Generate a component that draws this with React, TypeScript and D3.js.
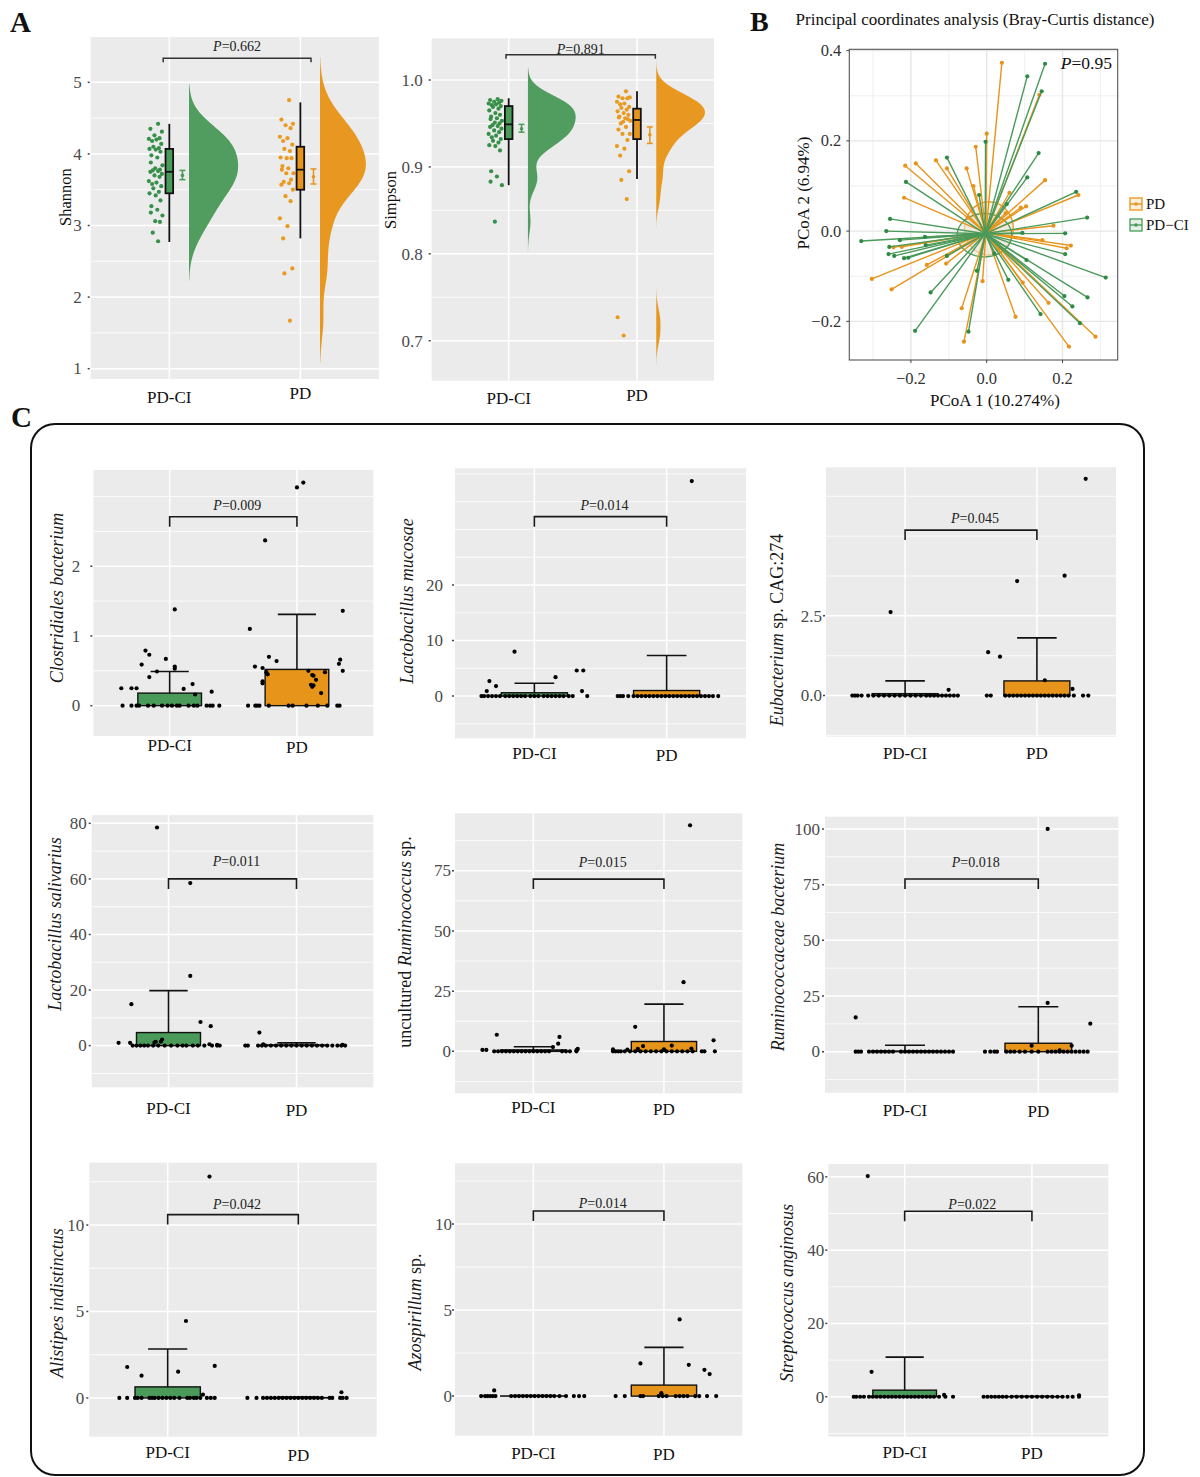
import React from 'react';
import * as d3 from 'd3';

const FONT = "'Liberation Serif','Times New Roman',serif";
const GROUPS = ['PD-CI', 'PD'];
const GREEN = '#4a9a5a';
const ORANGE = '#e7951a';
const GREEN_PT = '#379049';
const ORANGE_PT = '#ea9a1f';
const FILLS = [GREEN, ORANGE];
const PT_COLS = [GREEN_PT, ORANGE_PT];
const PANEL_BG = '#ebebeb';

type Pt = [number, number];

// ---------------- Panel A data ----------------
const shannonPDCI = [4.42, 4.35, 4.31, 4.26, 4.22, 4.21, 4.2, 4.18, 4.14, 4.1, 4.08, 4.07, 4.06, 4.03, 3.98, 3.95, 3.88, 3.84, 3.8, 3.78, 3.77, 3.76, 3.75, 3.72, 3.7, 3.68, 3.62, 3.6, 3.58, 3.55, 3.52, 3.47, 3.45, 3.42, 3.35, 3.27, 3.22, 3.18, 3.14, 3.06, 3.05, 2.9, 2.78];
const shannonPD = [4.75, 4.48, 4.42, 4.4, 4.36, 4.24, 4.22, 4.18, 4.13, 4.07, 4.04, 3.95, 3.94, 3.94, 3.83, 3.8, 3.78, 3.73, 3.73, 3.64, 3.61, 3.59, 3.57, 3.5, 3.41, 3.34, 3.1, 2.99, 2.82, 2.4, 2.33, 1.67];
const simpsonPDCI = [0.978, 0.977, 0.976, 0.975, 0.974, 0.973, 0.972, 0.971, 0.97, 0.969, 0.967, 0.965, 0.962, 0.96, 0.958, 0.956, 0.955, 0.953, 0.951, 0.95, 0.948, 0.947, 0.946, 0.944, 0.942, 0.94, 0.938, 0.936, 0.934, 0.932, 0.93, 0.928, 0.925, 0.924, 0.919, 0.895, 0.889, 0.883, 0.879, 0.837];
const simpsonPD = [0.987, 0.981, 0.98, 0.979, 0.979, 0.975, 0.973, 0.972, 0.969, 0.968, 0.966, 0.964, 0.962, 0.96, 0.958, 0.956, 0.957, 0.953, 0.952, 0.955, 0.95, 0.946, 0.943, 0.938, 0.938, 0.931, 0.924, 0.921, 0.913, 0.895, 0.885, 0.863, 0.727, 0.706];
// [lower whisker, q1, median, q3, upper whisker]
const shannonBox = [[2.77, 3.45, 3.75, 4.07, 4.42], [2.82, 3.5, 3.78, 4.1, 4.72]];
const simpsonBox = [[0.879, 0.932, 0.949, 0.97, 0.979], [0.886, 0.932, 0.954, 0.967, 0.987]];
// [mean, lower, upper]
const shannonMeanSE = [[3.7, 3.64, 3.77], [3.68, 3.58, 3.79]];
const simpsonMeanSE = [[0.944, 0.94, 0.949], [0.937, 0.927, 0.946]];
const jitterPattern = [0.35, -0.72, 0.88, -0.15, 0.55, -0.93, 0.12, -0.48, 0.79, -0.31, 0.46, -0.84, 0.02, 0.68, -0.58, 0.24, -0.66, 0.95, -0.05, 0.61, -0.39];

// ---------------- Panel B data ----------------
const pcoaPD: Pt[] = [[0.04, 0.373], [0.139, 0.302], [0.0, 0.216], [-0.029, 0.187], [-0.215, 0.145], [-0.187, 0.15], [-0.134, 0.157], [-0.105, 0.139], [-0.053, 0.139], [-0.218, 0.074], [-0.035, 0.1], [0.154, 0.113], [0.242, 0.08], [0.06, 0.085], [0.104, 0.055], [0.09, 0.052], [0.176, 0.012], [0.222, -0.032], [0.211, -0.038], [0.147, -0.02], [-0.246, -0.036], [-0.224, -0.035], [-0.158, -0.075], [-0.107, -0.072], [-0.303, -0.106], [-0.251, -0.129], [-0.011, -0.111], [0.095, -0.114], [0.163, -0.159], [0.076, -0.19], [-0.066, -0.171], [-0.06, -0.245], [0.217, -0.256], [0.287, -0.234], [-0.05, 0.03], [0.03, -0.04], [0.05, 0.04]];
const pcoaPDCI: Pt[] = [[0.154, 0.371], [0.107, 0.343], [0.145, 0.31], [-0.003, 0.198], [-0.105, 0.163], [0.137, 0.173], [0.107, 0.119], [-0.213, 0.109], [0.236, 0.087], [0.053, 0.06], [0.265, 0.03], [-0.255, 0.027], [-0.265, 0.0], [-0.331, -0.022], [-0.229, -0.02], [-0.257, -0.035], [-0.259, -0.051], [-0.244, -0.055], [-0.218, -0.06], [-0.207, -0.059], [-0.163, -0.013], [-0.161, -0.031], [-0.105, -0.055], [0.207, -0.005], [0.207, -0.051], [0.094, -0.004], [0.105, -0.064], [0.057, -0.108], [-0.026, -0.088], [0.314, -0.103], [0.266, -0.147], [0.205, -0.144], [0.226, -0.167], [0.246, -0.204], [0.142, -0.184], [-0.148, -0.136], [-0.189, -0.221], [-0.048, -0.223], [-0.02, 0.08], [0.02, -0.05]];
const pcoaCentroids: Pt[] = [[-0.004, -0.006], [-0.002, -0.004]]; // PD-CI, PD
// [cx, cy, rx, ry]
const pcoaEllipses = [[-0.006, -0.009, 0.072, 0.048], [0.006, 0.006, 0.064, 0.059]];
const pcoaXTicks = [-0.2, 0.0, 0.2];
const pcoaYTicks = [-0.2, 0.0, 0.2, 0.4];

// ---------------- Panel C data ----------------
// zeros: jitter offsets (category units) of samples at 0; pts: [offset, value]
const closZ = [[-0.37, -0.3, -0.26, -0.24, -0.17, -0.125, -0.06, -0.016, 0.018, 0.057, 0.078, 0.148, 0.19, 0.218, 0.29, 0.317, 0.338, 0.39], [-0.384, -0.327, -0.312, -0.294, -0.221, -0.065, -0.034, 0.075, 0.164, 0.239, 0.317, 0.335]];
const closP: Pt[][] = [[[-0.38, 0.25], [-0.3, 0.25], [-0.26, 0.25], [-0.22, 0.59], [-0.19, 0.79], [-0.16, 0.73], [-0.16, 0.41], [-0.1, 0.49], [-0.03, 0.67], [0.04, 1.38], [0.04, 0.56], [0.04, 0.53], [0.11, 0.24], [0.18, 0.31], [0.2, 0.16], [0.33, 0.2]],
  [[-0.37, 1.1], [-0.33, 0.56], [-0.27, 0.54], [-0.27, 0.35], [-0.27, 0.32], [-0.25, 2.37], [-0.24, 0.48], [-0.23, 0.45], [-0.22, 0.7], [-0.16, 0.64], [0.0, 3.13], [0.05, 3.2], [0.09, 0.5], [0.12, 0.44], [0.11, 0.3], [0.12, 0.27], [0.13, 0.29], [0.13, 0.43], [0.15, 0.37], [0.19, 0.18], [0.22, 0.48], [0.33, 0.6], [0.34, 0.66], [0.36, 0.5], [0.36, 1.36]]];
const mucZ = [[-0.4, -0.38, -0.35, -0.32, -0.29, -0.26, -0.22, -0.19, -0.16, -0.13, -0.1, -0.07, -0.03, 0, 0.03, 0.07, 0.1, 0.13, 0.16, 0.19, 0.22, 0.26, 0.29, 0.4], [-0.37, -0.35, -0.33, -0.29, -0.25, -0.22, -0.19, -0.16, -0.13, -0.1, -0.07, -0.04, -0.01, 0.02, 0.05, 0.08, 0.11, 0.14, 0.17, 0.2, 0.23, 0.26, 0.29, 0.32, 0.35, 0.39]];
const mucP: Pt[][] = [[[-0.36, 0.9], [-0.34, 2.7], [-0.29, 1.8], [-0.15, 8.0], [0.16, 3.4], [0.32, 4.6], [0.37, 4.6], [0.36, 0.9]], [[0.19, 38.7]]];
const eubZ = [[-0.4, -0.38, -0.36, -0.33, -0.28, -0.24, -0.2, -0.16, -0.12, -0.08, -0.04, 0, 0.04, 0.08, 0.12, 0.16, 0.19, 0.22, 0.25, 0.28, 0.31, 0.34, 0.37, 0.4], [-0.38, -0.35, -0.24, -0.21, -0.18, -0.15, -0.12, -0.09, -0.06, -0.03, 0.0, 0.03, 0.06, 0.09, 0.12, 0.15, 0.18, 0.21, 0.24, 0.28, 0.35, 0.39]];
const eubP: Pt[][] = [[[-0.11, 2.62], [0.33, 0.18]], [[-0.37, 1.36], [-0.28, 1.22], [-0.15, 3.59], [0.06, 0.48], [0.21, 3.76], [0.27, 0.21], [0.37, 6.8]]];
const salZ = [[-0.28, -0.25, -0.22, -0.19, -0.16, -0.12, -0.08, -0.03, 0.02, 0.07, 0.11, 0.14, 0.19, 0.23, 0.28, 0.34, 0.38, 0.4], [-0.4, -0.38, -0.3, -0.27, -0.24, -0.2, -0.16, -0.12, -0.08, -0.04, 0.0, 0.04, 0.08, 0.12, 0.16, 0.2, 0.24, 0.28, 0.32, 0.35, 0.38]];
const salP: Pt[][] = [[[-0.39, 1.0], [-0.3, 1.0], [-0.29, 14.9], [-0.09, 78.5], [-0.11, 1.1], [-0.1, 1.4], [-0.05, 2.2], [-0.06, 1.4], [0.17, 25.1], [0.17, 58.5], [0.25, 8.5], [0.33, 7.0], [0.32, 0.5], [0.38, 0.3]], [[-0.29, 4.7], [-0.26, 0.5], [0.36, 0.3]]];
const rumZ = [[-0.3, -0.27, -0.24, -0.21, -0.18, -0.15, -0.12, -0.09, -0.06, -0.03, 0.0, 0.03, 0.06, 0.09, 0.12, 0.22, 0.25, 0.28, 0.33], [-0.39, -0.37, -0.35, -0.33, -0.3, -0.26, -0.22, -0.18, -0.14, -0.1, -0.06, -0.02, 0.02, 0.06, 0.1, 0.14, 0.18, 0.22, 0.29, 0.31, 0.39]];
const rumP: Pt[][] = [[[-0.39, 0.6], [-0.36, 0.6], [-0.28, 6.9], [0.15, 1.8], [0.19, 3.2], [0.2, 6.0], [0.34, 1.0], [0.33, 0.5]], [[-0.39, 0.8], [-0.28, 0.7], [-0.22, 10.2], [-0.16, 2.2], [0.06, 2.4], [0.15, 28.7], [0.2, 93.8], [0.38, 4.6], [0.21, 1.2], [-0.2, 1.0], [0.0, 0.8]]];
const rcbZ = [[-0.37, -0.35, -0.33, -0.27, -0.24, -0.21, -0.18, -0.15, -0.12, -0.09, -0.03, 0.0, 0.03, 0.06, 0.09, 0.12, 0.15, 0.18, 0.21, 0.24, 0.27, 0.3, 0.33, 0.36], [-0.4, -0.36, -0.33, -0.31, -0.24, -0.21, -0.18, -0.14, -0.1, -0.05, 0.0, 0.07, 0.1, 0.13, 0.16, 0.19, 0.22, 0.25, 0.28, 0.31, 0.34, 0.37]];
const rcbP: Pt[][] = [[[-0.37, 15.4]], [[-0.05, 2.7], [0.07, 100], [0.07, 21.9], [0.25, 2.7], [0.39, 12.6], [0.16, 0.6]]];
const aliZ = [[-0.37, -0.31, -0.25, -0.23, -0.2, -0.14, -0.12, -0.1, -0.07, -0.04, -0.01, 0.02, 0.05, 0.09, 0.15, 0.17, 0.2, 0.22, 0.25, 0.3, 0.33, 0.36], [-0.39, -0.32, -0.27, -0.24, -0.21, -0.18, -0.15, -0.12, -0.09, -0.06, -0.03, 0.0, 0.03, 0.06, 0.09, 0.12, 0.15, 0.18, 0.24, 0.26, 0.32, 0.34, 0.37]];
const aliP: Pt[][] = [[[-0.31, 1.79], [-0.2, 1.29], [0.08, 1.52], [0.14, 4.45], [0.27, 0.19], [0.32, 12.8], [0.36, 1.85]], [[0.33, 0.33]]];
const azoZ = [[-0.4, -0.37, -0.35, -0.33, -0.31, -0.29, -0.17, -0.14, -0.11, -0.08, -0.05, -0.02, 0.01, 0.04, 0.07, 0.1, 0.13, 0.16, 0.2, 0.25, 0.31, 0.35, 0.39], [-0.37, -0.3, -0.18, -0.16, -0.04, -0.01, 0.02, 0.09, 0.12, 0.15, 0.18, 0.24, 0.27, 0.33, 0.4]];
const azoP: Pt[][] = [[[-0.3, 0.33]], [[-0.18, 1.9], [-0.02, 0.17], [0.12, 4.46], [0.19, 1.82], [0.31, 1.53], [0.35, 1.28]]];
const strZ = [[-0.4, -0.38, -0.35, -0.32, -0.28, -0.25, -0.22, -0.19, -0.16, -0.13, -0.1, -0.07, -0.04, -0.01, 0.02, 0.05, 0.08, 0.11, 0.14, 0.17, 0.2, 0.23, 0.27, 0.32, 0.38], [-0.38, -0.35, -0.32, -0.29, -0.26, -0.23, -0.2, -0.16, -0.12, -0.08, -0.04, 0.0, 0.04, 0.08, 0.12, 0.16, 0.2, 0.24, 0.28, 0.32, 0.37]];
const strP: Pt[][] = [[[-0.29, 60.2], [-0.26, 6.8], [0.31, 0.5]], [[0.37, 0.4]]];

// bar means and upper error values [PD-CI, PD]
const barMeans = [[0.18, 0.52], [0.6, 1.0], [0.06, 0.46], [4.7, 0.25], [0.6, 4.1], [0.3, 3.8], [0.64, 0.02], [0.01, 0.64], [1.8, 0.05]];
const barErrs = [[0.49, 1.31], [2.3, 7.3], [0.46, 1.81], [19.8, 1.0], [1.9, 19.6], [2.9, 20.2], [2.83, 0.05], [0.03, 2.83], [10.8, 0.15]];
const pValues = ['0.009', '0.014', '0.045', '0.011', '0.015', '0.018', '0.042', '0.014', '0.022'];
const taxaLabels: [string, boolean][][] = [
  [['Clostridiales bacterium', true]],
  [['Lactobacillus mucosae', true]],
  [['Eubacterium', true], [' sp. CAG:274', false]],
  [['Lactobacillus salivarius', true]],
  [['uncultured ', false], ['Ruminococcus', true], [' sp.', false]],
  [['Ruminococcaceae bacterium', true]],
  [['Alistipes indistinctus', true]],
  [['Azospirillum', true], [' sp.', false]],
  [['Streptococcus anginosus', true]],
];
const majorTicks = [[0, 1, 2], [0, 10, 20], [0, 2.5], [0, 20, 40, 60, 80], [0, 25, 50, 75], [0, 25, 50, 75, 100], [0, 5, 10], [0, 5, 10], [0, 20, 40, 60]];
const minorTicks = [[-0.5, 0.5, 1.5, 2.5, 3], [-5, 5, 15, 25, 30, 35, 40], [-1.25, 1.25, 3.75, 5, 6.25], [-10, 10, 30, 50, 70], [-12.5, 12.5, 37.5, 62.5, 87.5], [-12.5, 12.5, 37.5, 62.5, 87.5], [2.5, 7.5, 12.5], [2.5, 7.5, 12.5], [-10, 10, 30, 50]];
const yDomains: [number, number][] = [[-0.435, 3.38], [-7.6, 41.0], [-1.29, 7.16], [-15, 83], [-17.4, 98.8], [-18.4, 105.5], [-2.24, 13.6], [-2.3, 13.53], [-10.9, 63.5]];
const bracketVals = [2.71, 32.3, 5.19, 60, 71.5, 77.5, 10.6, 10.76, 50.6];
const zerosAll = [closZ, mucZ, eubZ, salZ, rumZ, rcbZ, aliZ, azoZ, strZ];
const ptsAll = [closP, mucP, eubP, salP, rumP, rcbP, aliP, azoP, strP];

// layout (pixels) for panel C subplots
const cLayout = [
  { rect: [93.3, 373.3, 470, 736], gap: 13, lx: 56.7, ly: 598, catY: [751, 753], tOff: 7 },
  { rect: [455, 746, 468.3, 738.3], gap: 12, lx: 406.7, ly: 601, catY: [759, 761], tOff: 7 },
  { rect: [826, 1116, 467.3, 736.7], gap: 4, lx: 776.7, ly: 630, catY: [759, 759], tOff: 7.5 },
  { rect: [91.7, 373.3, 815, 1087.3], gap: 5, lx: 55, ly: 924, catY: [1114, 1116], tOff: 12.5 },
  { rect: [455, 742.3, 813.3, 1093.3], gap: 4, lx: 405, ly: 942, catY: [1113, 1115], tOff: 12.5 },
  { rect: [825, 1118.3, 816.7, 1092.7], gap: 5, lx: 778, ly: 947, catY: [1116, 1117], tOff: 12.5 },
  { rect: [89.3, 376.7, 1162.7, 1436.7], gap: 5, lx: 56.7, ly: 1303, catY: [1458, 1461], tOff: 6 },
  { rect: [455, 742.3, 1163.3, 1435.7], gap: 3, lx: 415, ly: 1312, catY: [1459, 1460], tOff: 2.5 },
  { rect: [828.3, 1108.3, 1164, 1436.7], gap: 4, lx: 786.7, ly: 1293, catY: [1458, 1459], tOff: 2.5 },
];

function fmtTick(v: number, dec: boolean) {
  return dec ? d3.format('.1f')(v) : d3.format('d')(v);
}

function PText({ x, y, p, size = 14 }: any) {
  return (
    <text x={x} y={y} textAnchor="middle" fontFamily={FONT} fontSize={size} fill="#222">
      <tspan fontStyle="italic">P</tspan>={p}
    </text>
  );
}

function Grid({ x, y, rect, major, minor }: any) {
  const [x0, x1, y0, y1] = rect;
  return (
    <g>
      <rect x={x0} y={y0} width={x1 - x0} height={y1 - y0} fill={PANEL_BG} />
      {minor.map((v: number) => (
        <line key={'mi' + v} x1={x0} x2={x1} y1={y(v)} y2={y(v)} stroke="#fff" strokeWidth={0.8} />
      ))}
      {major.map((v: number) => (
        <line key={'ma' + v} x1={x0} x2={x1} y1={y(v)} y2={y(v)} stroke="#fff" strokeWidth={1.5} />
      ))}
      {GROUPS.map((g) => (
        <line key={g} x1={x(g)} x2={x(g)} y1={y0} y2={y1} stroke="#fff" strokeWidth={1.5} />
      ))}
    </g>
  );
}

function YTicks({ y, x0, major, gap, dec, size = 17 }: any) {
  return (
    <g>
      {major.map((v: number) => (
        <g key={v}>
          <line x1={x0 - 3} x2={x0 - 1} y1={y(v)} y2={y(v)} stroke="#444" strokeWidth={1.5} />
          <text x={x0 - gap} y={y(v)} dy="0.34em" textAnchor="end" fontFamily={FONT} fontSize={size} fill="#4a4a4a">
            {fmtTick(v, dec)}
          </text>
        </g>
      ))}
    </g>
  );
}

function CPanel({ i }: { i: number }) {
  const L = cLayout[i];
  const [x0, x1, y0, y1] = L.rect;
  const x = d3.scalePoint<string>().domain(GROUPS).range([x0, x1]).padding(0.6);
  const step = x.step();
  const y = d3.scaleLinear().domain(yDomains[i]).range([y1, y0]);
  const by = y(bracketVals[i]);
  const xa = x(GROUPS[0])!;
  const xb = x(GROUPS[1])!;
  return (
    <g>
      <Grid x={x} y={y} rect={L.rect} major={majorTicks[i]} minor={minorTicks[i]} />
      {GROUPS.map((g, gi) => {
        const cx = x(g)!;
        const m = barMeans[i][gi];
        const e = barErrs[i][gi];
        return (
          <g key={g}>
            <rect x={cx - 0.25 * step} width={0.5 * step} y={y(m)} height={Math.max(0.01, y(0) - y(m))} fill={FILLS[gi]} stroke="#111" strokeWidth={1.4} />
            <line x1={cx} x2={cx} y1={y(m)} y2={y(e)} stroke="#111" strokeWidth={1.6} />
            <line x1={cx - 0.15 * step} x2={cx + 0.15 * step} y1={y(e)} y2={y(e)} stroke="#111" strokeWidth={1.6} />
          </g>
        );
      })}
      {GROUPS.map((g, gi) => (
        <g key={'p' + g}>
          {zerosAll[i][gi].map((dx, k) => (
            <circle key={'z' + k} cx={x(g)! + dx * step} cy={y(0)} r={2.1} fill="#000" />
          ))}
          {ptsAll[i][gi].map(([dx, v], k) => (
            <circle key={'n' + k} cx={x(g)! + dx * step} cy={y(v)} r={2.1} fill="#000" />
          ))}
        </g>
      ))}
      <path d={`M${xa},${by + 10}V${by}H${xb}V${by + 10}`} fill="none" stroke="#1a1a1a" strokeWidth={1.6} />
      <PText x={(xa + xb) / 2 + 4} y={by - L.tOff} p={pValues[i]} />
      <YTicks y={y} x0={x0} major={majorTicks[i]} gap={L.gap} dec={i === 2} />
      <text transform={`translate(${L.lx},${L.ly}) rotate(-90)`} textAnchor="middle" dy="0.35em" fontFamily={FONT} fontSize={18} fill="#1a1a1a">
        {taxaLabels[i].map(([t, it], k) => (
          <tspan key={k} fontStyle={it ? 'italic' : 'normal'}>{t}</tspan>
        ))}
      </text>
      {GROUPS.map((g, gi) => (
        <text key={'l' + g} x={x(g)} y={L.catY[gi]} textAnchor="middle" fontFamily={FONT} fontSize={17} fill="#111">
          {g}
        </text>
      ))}
    </g>
  );
}

// Gaussian kernel density, evaluated on a grid that reaches `cut` bandwidths past the data
function kde(values: number[], bw: number, cut: number) {
  const lo = (d3.min(values) as number) - cut * bw;
  const hi = (d3.max(values) as number) + cut * bw;
  const grid = d3.ticks(lo, hi, 160);
  const pts = [lo, ...grid.filter((t) => t > lo && t < hi), hi];
  return pts.map((t) => [t, d3.mean(values, (v) => Math.exp(-0.5 * ((t - v) / bw) ** 2)) as number]);
}

const rainDefs = [
  {
    rect: [90.7, 379, 37, 379], dom: [0.856, 5.633], major: [1, 2, 3, 4, 5], minor: [1.5, 2.5, 3.5, 4.5], dec: false, gap: 9,
    ylab: 'Shannon', lx: 65, ly: 197, catY: [403, 399], vals: [shannonPDCI, shannonPD], box: shannonBox, mse: shannonMeanSE,
    bw: [0.24, 0.26], cut: [2.3, 2.3], maxW: [0.375, 0.35], bracket: 5.335, bdx: [-0.047, 0.081], tOff: 7, p: '0.662',
  },
  {
    rect: [431.7, 714, 38.3, 380.7], dom: [0.654, 1.048], major: [0.7, 0.8, 0.9, 1.0], minor: [0.75, 0.85, 0.95], dec: true, gap: 9,
    ylab: 'Simpson', lx: 390, ly: 200, catY: [404, 401], vals: [simpsonPDCI, simpsonPD], box: simpsonBox, mse: simpsonMeanSE,
    bw: [0.013, 0.012], cut: [2.8, 3.0], maxW: [0.372, 0.38], bracket: 1.029, bdx: [-0.021, 0.143], tOff: 1, p: '0.891',
  },
];

function RainPanel({ d }: any) {
  const [x0, x1, y0, y1] = d.rect;
  const x = d3.scalePoint<string>().domain(GROUPS).range([x0, x1]).padding(0.6);
  const step = x.step();
  const y = d3.scaleLinear().domain(d.dom).range([y1, y0]);
  const by = y(d.bracket);
  const xa = x(GROUPS[0])! + d.bdx[0] * step;
  const xb = x(GROUPS[1])! + d.bdx[1] * step;
  return (
    <g>
      <Grid x={x} y={y} rect={d.rect} major={d.major} minor={d.minor} />
      {GROUPS.map((g, gi) => {
        const cx = x(g)!;
        const dens = kde(d.vals[gi], d.bw[gi], d.cut[gi]);
        const maxD = d3.max(dens, (p) => p[1]) as number;
        const vx = cx + 0.15 * step;
        const area = d3
          .area<number[]>()
          .y((p) => y(p[0]))
          .x0(vx)
          .x1((p) => vx + (p[1] / maxD) * d.maxW[gi] * step)
          .curve(d3.curveBasis);
        const [lo, q1, med, q3, hi] = d.box[gi];
        const [mn, sl, sh] = d.mse[gi];
        const bw = 3.8;
        const ex = cx + 0.1 * step;
        return (
          <g key={g}>
            <path d={area(dens) as string} fill={FILLS[gi]} opacity={0.97} />
            {d.vals[gi].map((v: number, k: number) => (
              <circle key={k} cx={cx - 0.105 * step + jitterPattern[k % jitterPattern.length] * 0.055 * step} cy={y(v)} r={2.1} fill={PT_COLS[gi]} />
            ))}
            <line x1={cx} x2={cx} y1={y(lo)} y2={y(hi)} stroke="#111" strokeWidth={1.8} />
            <rect x={cx - bw} width={2 * bw} y={y(q3)} height={y(q1) - y(q3)} fill={FILLS[gi]} stroke="#111" strokeWidth={1.8} />
            <line x1={cx - bw} x2={cx + bw} y1={y(med)} y2={y(med)} stroke="#111" strokeWidth={1.8} />
            <line x1={ex} x2={ex} y1={y(sl)} y2={y(sh)} stroke={FILLS[gi]} strokeWidth={1.5} />
            <line x1={ex - 3} x2={ex + 3} y1={y(sl)} y2={y(sl)} stroke={FILLS[gi]} strokeWidth={1.5} />
            <line x1={ex - 3} x2={ex + 3} y1={y(sh)} y2={y(sh)} stroke={FILLS[gi]} strokeWidth={1.5} />
            <circle cx={ex} cy={y(mn)} r={1.8} fill={FILLS[gi]} />
          </g>
        );
      })}
      <path d={`M${xa},${by + 4}V${by}H${xb}V${by + 4}`} fill="none" stroke="#333" strokeWidth={1.5} />
      <PText x={(xa + xb) / 2} y={by - d.tOff} p={d.p} />
      <YTicks y={y} x0={x0} major={d.major} gap={d.gap} dec={d.dec} />
      <text transform={`translate(${d.lx},${d.ly}) rotate(-90)`} textAnchor="middle" dy="0.35em" fontFamily={FONT} fontSize={16.5} fill="#111">
        {d.ylab}
      </text>
      {GROUPS.map((g, gi) => (
        <text key={'l' + g} x={x(g)} y={d.catY[gi]} textAnchor="middle" fontFamily={FONT} fontSize={17} fill="#111">
          {g}
        </text>
      ))}
    </g>
  );
}

function PCoA() {
  const X0 = 849.3, X1 = 1117.7, Y0 = 49.3, Y1 = 360;
  const x = d3.scaleLinear().domain([-0.3625, 0.3456]).range([X0, X1]);
  const y = d3.scaleLinear().domain([-0.2857, 0.403]).range([Y1, Y0]);
  const xMinor = [-0.3, -0.1, 0.1, 0.3];
  const yMinor = [-0.1, 0.1, 0.3];
  const sets = [pcoaPDCI, pcoaPD];
  const order = [1, 0]; // draw PD first, PD-CI on top
  const ell = (e: number[]) => {
    const angles = d3.range(0, 361, 5).map((a) => (a * Math.PI) / 180);
    return d3.line<number>().x((a) => x(e[0] + e[2] * Math.cos(a))).y((a) => y(e[1] + e[3] * Math.sin(a)))(angles) as string;
  };
  return (
    <g>
      <rect x={X0} y={Y0} width={X1 - X0} height={Y1 - Y0} fill="#fff" />
      {xMinor.map((v) => <line key={'xm' + v} x1={x(v)} x2={x(v)} y1={Y0} y2={Y1} stroke="#ececec" strokeWidth={0.8} />)}
      {yMinor.map((v) => <line key={'ym' + v} x1={X0} x2={X1} y1={y(v)} y2={y(v)} stroke="#ececec" strokeWidth={0.8} />)}
      {pcoaXTicks.map((v) => <line key={'xM' + v} x1={x(v)} x2={x(v)} y1={Y0} y2={Y1} stroke="#e6e6e6" strokeWidth={1.4} />)}
      {pcoaYTicks.map((v) => <line key={'yM' + v} x1={X0} x2={X1} y1={y(v)} y2={y(v)} stroke="#e6e6e6" strokeWidth={1.4} />)}
      {order.map((gi) => (
        <path key={'e' + gi} d={ell(pcoaEllipses[gi])} fill="#ede8da" fillOpacity={0.6} stroke={FILLS[gi]} strokeWidth={1.3} />
      ))}
      {order.map((gi) => (
        <g key={'s' + gi}>
          {sets[gi].map(([a, b], k) => (
            <line key={k} x1={x(pcoaCentroids[gi][0])} y1={y(pcoaCentroids[gi][1])} x2={x(a)} y2={y(b)} stroke={FILLS[gi]} strokeWidth={1.4} />
          ))}
          {sets[gi].map(([a, b], k) => (
            <circle key={'c' + k} cx={x(a)} cy={y(b)} r={2.1} fill={gi === 0 ? '#2f8a43' : '#e8921a'} />
          ))}
        </g>
      ))}
      <rect x={X0} y={Y0} width={X1 - X0} height={Y1 - Y0} fill="none" stroke="#555" strokeWidth={1.1} />
      {pcoaYTicks.map((v) => (
        <g key={'yt' + v}>
          <line x1={X0 - 3} x2={X0} y1={y(v)} y2={y(v)} stroke="#444" strokeWidth={1} />
          <text x={X0 - 8} y={y(v)} dy="0.34em" textAnchor="end" fontFamily={FONT} fontSize={16.5} fill="#333">
            {v === 0 ? '0.0' : d3.format('.1f')(v).replace('-', '\u2212')}
          </text>
        </g>
      ))}
      {pcoaXTicks.map((v) => (
        <g key={'xt' + v}>
          <line x1={x(v)} x2={x(v)} y1={Y1} y2={Y1 + 3} stroke="#444" strokeWidth={1} />
          <text x={x(v)} y={384} textAnchor="middle" fontFamily={FONT} fontSize={16.5} fill="#333">
            {v === 0 ? '0.0' : d3.format('.1f')(v).replace('-', '\u2212')}
          </text>
        </g>
      ))}
      <text x={995} y={406} textAnchor="middle" fontFamily={FONT} fontSize={17} fill="#111">PCoA 1 (10.274%)</text>
      <text transform="translate(803,193) rotate(-90)" textAnchor="middle" dy="0.35em" fontFamily={FONT} fontSize={17} fill="#111">PCoA 2 (6.94%)</text>
      <text x={1112} y={69} textAnchor="end" fontFamily={FONT} fontSize={17.5} fill="#111">
        <tspan fontStyle="italic">P</tspan>=0.95
      </text>
      <text x={975} y={25} textAnchor="middle" fontFamily={FONT} fontSize={17} fill="#111">
        Principal coordinates analysis (Bray-Curtis distance)
      </text>
      {[1, 0].map((gi, k) => {
        const cy = 204 + k * 21;
        return (
          <g key={'lg' + gi}>
            <rect x={1130} y={cy - 6} width={12} height={12} fill={FILLS[gi]} fillOpacity={0.15} stroke={FILLS[gi]} strokeWidth={1.3} />
            <line x1={1130} x2={1142} y1={cy} y2={cy} stroke={FILLS[gi]} strokeWidth={1.4} />
            <circle cx={1136} cy={cy} r={1.8} fill={FILLS[gi]} />
            <text x={1146} y={cy} dy="0.34em" fontFamily={FONT} fontSize={15} fill="#111">
              {GROUPS[gi] === 'PD-CI' ? 'PD\u2212CI' : GROUPS[gi]}
            </text>
          </g>
        );
      })}
    </g>
  );
}

export default function App() {
  return (
    <svg width={1200} height={1477} viewBox="0 0 1200 1477" style={{ position: 'absolute', left: 0, top: 0, background: '#fff' }}>
      <rect x={0} y={0} width={1200} height={1477} fill="#fff" />
      <text x={10} y={32} fontFamily={FONT} fontSize={29} fontWeight="bold" fill="#111">A</text>
      <text x={750} y={31} fontFamily={FONT} fontSize={28} fontWeight="bold" fill="#111">B</text>
      <text x={11} y={427} fontFamily={FONT} fontSize={29} fontWeight="bold" fill="#111">C</text>
      {rainDefs.map((d, k) => <RainPanel key={k} d={d} />)}
      <PCoA />
      <rect x={31} y={424} width={1113} height={1051} rx={24} ry={24} fill="none" stroke="#111" strokeWidth={2} />
      {cLayout.map((_, i) => <CPanel key={i} i={i} />)}
    </svg>
  );
}
